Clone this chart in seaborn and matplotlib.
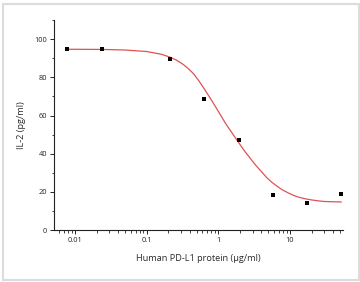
import numpy as np
import pandas as pd
import matplotlib
matplotlib.use('Agg')
import matplotlib.pyplot as plt
import matplotlib.ticker as mticker
from matplotlib.patches import Rectangle
import seaborn as sns

conc = [0.0078, 0.0236, 0.21, 0.64, 1.92, 5.8, 17.4, 52.0]
il2 = [94.6, 94.6, 89.4, 68.7, 47.0, 18.2, 14.3, 19.0]

# Fitted curve
fit_conc = [0.0078, 0.0234, 0.05, 0.1, 0.16, 0.21, 0.26, 0.32, 0.38, 0.45,
            0.53, 0.63, 0.75, 0.89, 1.06, 1.26, 1.55, 1.9, 2.3, 2.8, 3.35,
            4.0, 4.7, 5.6, 6.7, 7.9, 9.4, 11.2, 13.3, 15.8, 20.0, 25.0,
            30.0, 35.5, 44.0, 52.0]
fit_il2 = [94.7, 94.6, 94.3, 93.5, 92.1, 90.6, 89.0, 86.9, 84.6, 81.9,
           78.4, 74.2, 69.8, 65.3, 60.6, 55.9, 50.9, 46.1, 41.6, 37.5, 33.8,
           30.6, 27.6, 25.0, 22.8, 21.0, 19.5, 18.2, 17.2, 16.5, 15.8, 15.3,
           15.0, 14.9, 14.8, 14.7]

xticks = [0.01, 0.1, 1, 10]
xtick_labels = ['0.01', '0.1', '1', '10']
yticks = [0, 20, 40, 60, 80, 100]

points = pd.DataFrame({'conc': conc, 'il2': il2})
curve = pd.DataFrame({'conc': fit_conc, 'il2': fit_il2})

sns.set_style('white')
plt.rcParams['font.family'] = ['Open Sans', 'DejaVu Sans']

fig = plt.figure(figsize=(3.6, 2.82), dpi=100)
ax = fig.add_axes([0.15, 0.184, 0.803, 0.745])

sns.lineplot(data=curve, x='conc', y='il2', ax=ax, color='#e05252',
             linewidth=0.9, sort=False)
sns.scatterplot(data=points, x='conc', y='il2', ax=ax, marker='s', s=9,
                color='black', edgecolor='black', linewidth=0, zorder=3)

ax.set_xscale('log')
ax.set_xlim(0.0051, 55)
ax.set_ylim(0, 110)

ax.xaxis.set_major_locator(mticker.FixedLocator(xticks))
ax.xaxis.set_major_formatter(mticker.FixedFormatter(xtick_labels))
ax.xaxis.set_minor_locator(mticker.LogLocator(base=10, subs=np.arange(2, 10)))
ax.xaxis.set_minor_formatter(mticker.NullFormatter())
ax.set_yticks(yticks)
ax.yaxis.set_minor_locator(mticker.MultipleLocator(10))

for side in ['top', 'right']:
    ax.spines[side].set_visible(False)
for side in ['left', 'bottom']:
    ax.spines[side].set_color('#222222')
    ax.spines[side].set_linewidth(0.8)

ax.tick_params(axis='both', which='major', direction='out', length=3,
               width=0.7, labelsize=5.3, colors='#222222', pad=2,
               bottom=True, left=True)
ax.tick_params(axis='both', which='minor', direction='out', length=1.8,
               width=0.6, colors='#222222', bottom=True, left=True)

ax.set_xlabel('Human PD-L1 protein (μg/ml)', fontsize=6.6, color='#2a2a2a',
              labelpad=7)
ax.set_ylabel('IL-2 (pg/ml)', fontsize=6.6, color='#2a2a2a', labelpad=6)

# light grey frame around the picture
fig.patches.append(Rectangle((0.008, 0.006), 0.99, 0.98, transform=fig.transFigure,
                             fill=False, edgecolor='#dcdcdc', linewidth=1.5))

fig.savefig('out.png', dpi=100)
